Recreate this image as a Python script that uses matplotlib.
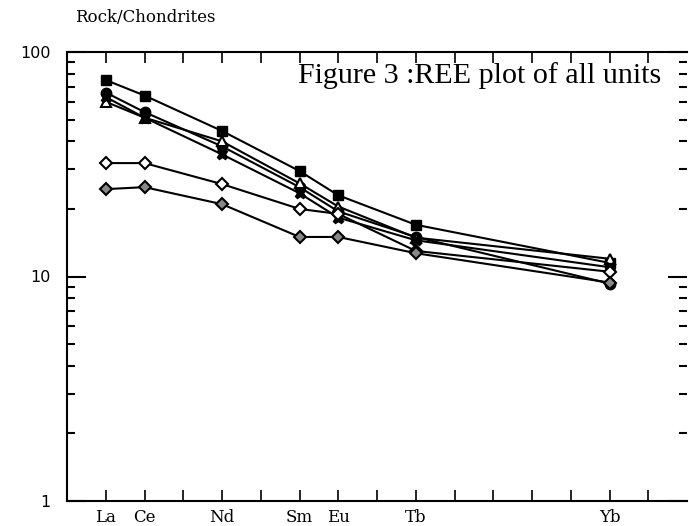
import matplotlib
matplotlib.use("Agg")
import matplotlib.pyplot as plt
from matplotlib.ticker import FixedLocator, NullFormatter

elements = ["La", "Ce", "Nd", "Sm", "Eu", "Tb", "Yb"]
atomic_numbers = [57, 58, 60, 62, 63, 65, 70]

s_squares = [75, 64, 44.5, 29.5, 23, 17, 11.5]
s_circles = [66, 54, 38, 25, 19.5, 15, 9.3]
s_triangles = [60, 51, 40, 26, 20.5, 14.9, 12]
s_filled = [63, 51, 35, 23.5, 18.3, 14.5, 11]
s_open_diamond = [32, 32, 25.8, 20, 19, 13, 10.5]
s_dot_diamond = [24.5, 25, 21, 15, 15, 12.7, 9.4]

fig = plt.figure(figsize=(6.89, 5.26), dpi=100)
ax = fig.add_axes([67/689, 1-501/526, (687-67)/689, (501-52)/526])

kw = dict(color="black", lw=1.5)
ax.plot(atomic_numbers, s_squares, marker="s", ms=7.5, mfc="black", mec="black", **kw)
ax.plot(atomic_numbers, s_circles, marker="o", ms=7.5, mfc="black", mec="black", **kw)
ax.plot(atomic_numbers, s_triangles, marker="^", ms=7.5, mfc="white", mec="black", mew=1.5, **kw)
ax.plot(atomic_numbers, s_filled, marker="X", ms=7.5, mfc="black", mec="black", **kw)
ax.plot(atomic_numbers, s_open_diamond, marker="D", ms=6.5, mfc="white", mec="black", mew=1.5, **kw)
ax.plot(atomic_numbers, s_dot_diamond, marker="D", ms=6.5, mfc="#888888", mec="black", mew=1.5, **kw)

ax.set_yscale("log")
ax.set_ylim(1, 100)
ax.set_xlim(56, 72)

ax.set_xticks(range(57, 72))
labels = [""] * 15
for el, z in zip(elements, atomic_numbers):
    labels[z - 57] = el
ax.set_xticklabels(labels, family="DejaVu Serif", fontsize=12)
ax.tick_params(axis="x", which="major", direction="in", length=8, width=1.2,
               top=True, bottom=True, pad=6)

ax.set_yticks([1, 10, 100])
ax.set_yticklabels(["1", "10", "100"], family="DejaVu Sans", fontsize=11.5)
ax.yaxis.set_minor_locator(FixedLocator([2, 3, 4, 5, 6, 7, 8, 9, 20, 30, 40, 50, 60, 70, 80, 90]))
ax.yaxis.set_minor_formatter(NullFormatter())
ax.tick_params(axis="y", which="major", direction="in", length=14, width=1.5,
               left=True, right=True, pad=12)
ax.tick_params(axis="y", which="minor", direction="in", length=6, width=1.5,
               left=True, right=True)

for side in ["left", "bottom", "top"]:
    ax.spines[side].set_linewidth(1.5)
ax.spines["right"].set_visible(False)

ax.text((298-67)/620, (501-76)/449, "Figure 3 :REE plot of all units", transform=ax.transAxes,
        family="Liberation Serif", fontsize=21.6, ha="left", va="center")
fig.text(75/689, 1-18/526, "Rock/Chondrites", family="DejaVu Serif",
         fontsize=12, ha="left", va="center")

fig.savefig("out.png", dpi=100)
